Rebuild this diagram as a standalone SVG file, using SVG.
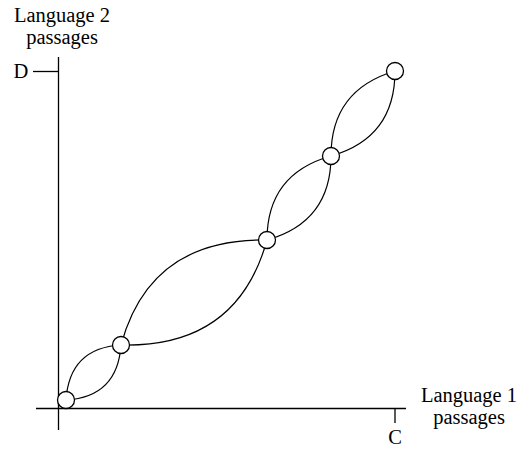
<svg xmlns="http://www.w3.org/2000/svg" width="519" height="449" viewBox="0 0 519 449">
<style>
.ax{stroke:#000;stroke-width:1.3;fill:none}
.lens{stroke:#000;stroke-width:1.2;fill:none}
.nd{stroke:#000;stroke-width:1.3;fill:#fff}
text{font-family:"Liberation Serif","DejaVu Serif",serif;font-size:20.5px;fill:#000}
</style>
<rect width="519" height="449" fill="#fff"/>
<g id="axes">
<line class="ax" x1="58.5" y1="57" x2="58.5" y2="430"/>
<line class="ax" x1="36" y1="408.5" x2="406" y2="408.5"/>
<line class="ax" x1="33" y1="71.5" x2="58.5" y2="71.5"/>
<line class="ax" x1="395" y1="408.5" x2="395" y2="423"/>
<text x="62" y="22" text-anchor="middle">Language 2</text>
<text x="62" y="44" text-anchor="middle">passages</text>
<text x="21" y="78" text-anchor="middle">D</text>
<text x="469" y="402" text-anchor="middle">Language 1</text>
<text x="469" y="424" text-anchor="middle">passages</text>
<text x="395" y="444" text-anchor="middle">C</text>
</g>
<g id="connectors">
<path class="lens" d="M66,400 Q69.5,348 121,345"/>
<path class="lens" d="M66,400 Q117.5,397 121,345"/>
<path class="lens" d="M121,345 Q150,238 267,240"/>
<path class="lens" d="M121,345 Q237,348 267,240"/>
<path class="lens" d="M267,240 Q267,174 331,156"/>
<path class="lens" d="M267,240 Q331,222 331,156"/>
<path class="lens" d="M331,156 Q331,90 395,71"/>
<path class="lens" d="M331,156 Q395,138 395,71"/>
</g>
<g id="n1"><circle class="nd" cx="66" cy="400" r="8.5"/></g>
<g id="n2"><circle class="nd" cx="121" cy="345" r="8.5"/></g>
<g id="n3"><circle class="nd" cx="267" cy="240" r="8.5"/></g>
<g id="n4"><circle class="nd" cx="331" cy="156" r="8.5"/></g>
<g id="n5"><circle class="nd" cx="395" cy="71" r="8.5"/></g>
</svg>
